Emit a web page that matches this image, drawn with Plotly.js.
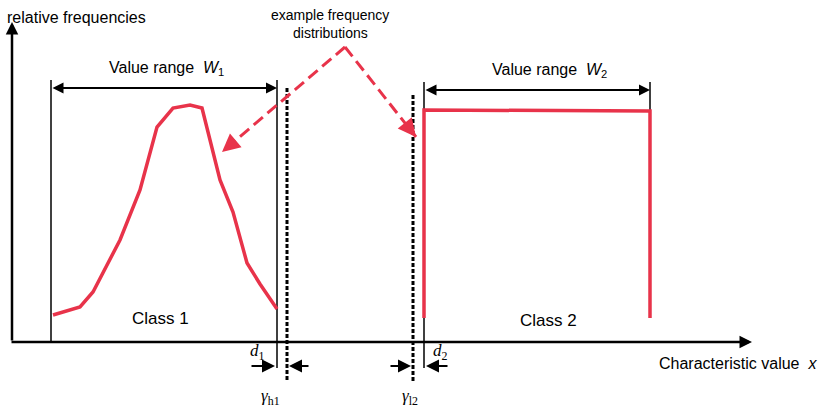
<!DOCTYPE html>
<html><head><meta charset="utf-8">
<script src="https://cdn.plot.ly/plotly-3.0.1.min.js"></script>
<style>html,body{margin:0;padding:0;background:#fff}#c{width:823px;height:408px}</style>
</head><body><div id="c"></div>
<script>
// Schematic coordinates (drawing units)
const class1X = [53, 80, 93, 120, 140, 157, 173, 190, 202, 220, 233, 247, 260, 277];
const class1Y = [315, 307, 292, 240, 190, 127, 108, 105, 108, 180, 212, 263, 284, 309];
const class2X = [424, 424, 650, 650];
const class2Y = [318, 110, 111, 318];
const rangeW1 = [51, 277];
const rangeW2 = [424, 650];
const thresholds = [287, 413];   // gamma_h1, gamma_l2
const boundTop = 80;
const axisY = 342;
const axisX = 12;
const pointerApex = [345, 47];
const pointerTips = [[222, 152], [416, 137]];

const red = '#e8334a';
const traces = [];
function line(xs, ys, color, width, dash) {
  traces.push({x: xs, y: ys, mode: 'lines', line: {color: color, width: width, dash: dash || 'solid'}, hoverinfo: 'skip', showlegend: false});
}
// boundaries
line([rangeW1[0], rangeW1[0]], [boundTop, axisY], '#000', 1.5);
line([rangeW1[1], rangeW1[1]], [boundTop, 368], '#000', 1.5);
line([rangeW2[0], rangeW2[0]], [boundTop + 2, 368], '#000', 1.5);
line([rangeW2[1], rangeW2[1]], [boundTop + 2, 318], '#000', 1.5);
// thresholds
line([thresholds[0], thresholds[0]], [88, 380], '#000', 3, '4px,2px');
line([thresholds[1], thresholds[1]], [95, 382], '#000', 3, '4px,2px');
// distributions
line(class1X, class1Y, red, 3.5);
line(class2X, class2Y, red, 3.5);
// pointer dashed lines
pointerTips.forEach(t => line([pointerApex[0], t[0]], [pointerApex[1], t[1]], red, 3, '12px,6px'));

const ann = [];
function arrow(x, y, ax, ay, color, w, side, size) {
  ann.push({x: x, y: y, ax: ax, ay: ay, xref: 'x', yref: 'y', axref: 'x', ayref: 'y', text: '', showarrow: true,
    arrowhead: 2, arrowsize: size || 1, arrowwidth: w, arrowcolor: color, arrowside: side || 'end', standoff: 0, startstandoff: 0});
}
function txt(x, y, s, size, family, anchor) {
  ann.push({x: x, y: y, xref: 'x', yref: 'y', text: s, showarrow: false, font: {size: size, family: family || 'Liberation Sans, Arial', color: '#000'}, xanchor: anchor || 'center', yanchor: 'middle'});
}
// axes
arrow(axisX, 22, axisX, axisY, '#000', 2.5);
arrow(752, axisY, 10, axisY, '#000', 2.5);
// range arrows
arrow(rangeW1[1], 88, rangeW1[0], 88, '#000', 2, 'end+start', 1.1);
arrow(rangeW2[1], 90, rangeW2[0], 90, '#000', 2, 'end+start', 1.1);
// d arrows
arrow(275, 366, 250, 366, '#000', 2, 'end', 1.3);
arrow(289, 366, 310, 366, '#000', 2, 'end', 1.3);
arrow(411, 366, 389, 366, '#000', 2, 'end', 1.3);
arrow(426, 366, 449, 366, '#000', 2, 'end', 1.3);
// pointer heads
arrow(pointerTips[0][0], pointerTips[0][1], pointerTips[0][0] + 13, pointerTips[0][1] - 11, red, 3, 'end', 1.2);
arrow(pointerTips[1][0], pointerTips[1][1], pointerTips[1][0] - 8, pointerTips[1][1] - 10, red, 3, 'end', 1.2);

txt(5, 17, 'relative frequencies', 16, null, 'left');
txt(330, 15, 'example frequency', 14);
txt(330, 33, 'distributions', 14);
txt(166, 68, 'Value range  <i>W</i><sub>1</sub>', 16);
txt(549, 70, 'Value range  <i>W</i><sub>2</sub>', 16);
txt(160, 318, 'Class 1', 17);
txt(548, 320, 'Class 2', 17);
txt(738, 363, 'Characteristic value  <i>x</i>', 16);
txt(257, 352, '<i>d</i><sub>1</sub>', 17, 'Liberation Serif, Times New Roman');
txt(440, 352, '<i>d</i><sub>2</sub>', 17, 'Liberation Serif, Times New Roman');
txt(270, 397, '<i>γ</i><sub>h1</sub>', 17, 'Liberation Serif, Times New Roman');
txt(410, 397, '<i>γ</i><sub>l2</sub>', 17, 'Liberation Serif, Times New Roman');

const layout = {
  width: 823, height: 408, margin: {l: 0, r: 0, t: 0, b: 0},
  paper_bgcolor: '#fff', plot_bgcolor: '#fff', showlegend: false,
  xaxis: {range: [0, 823], visible: false, fixedrange: true},
  yaxis: {range: [408, 0], visible: false, fixedrange: true},
  annotations: ann
};
Plotly.newPlot('c', traces, layout, {staticPlot: true});
</script></body></html>
